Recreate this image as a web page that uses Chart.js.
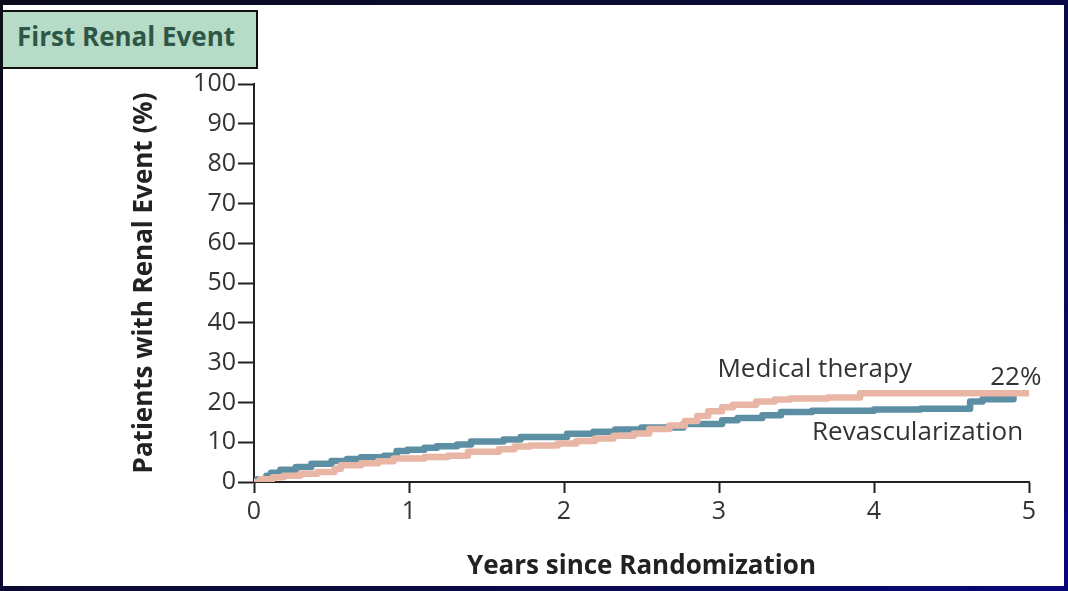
<!DOCTYPE html>
<html>
<head>
<meta charset="utf-8">
<script src="https://cdn.jsdelivr.net/npm/chart.js@4.4.1/dist/chart.umd.min.js"></script>
<style>
  html, body { margin: 0; padding: 0; }
  body {
    width: 1068px; height: 591px; overflow: hidden; position: relative;
    background: linear-gradient(135deg, #0b0b1c 0%, #0a0a3c 55%, #07077c 100%);
  }
  #panel { position: absolute; left: 3px; top: 5px; right: 4px; bottom: 5px; background: #fff; }
  #chart { position: absolute; left: 0; top: 0; }
  .tag {
    position: absolute; left: 1px; top: 10px; width: 257px; height: 59px;
    box-sizing: border-box; border: 2px solid #111; background: #b6dcc8;
    font: bold 26px "Open Sans", sans-serif; color: #2e5747;
    line-height: 48px; padding-left: 14px; white-space: nowrap;
  }
</style>
</head>
<body>
<div id="panel"></div>
<canvas id="chart" width="1068" height="591"></canvas>
<div class="tag">First Renal Event</div>
<script>
// ------------------------------------------------------------
// Cumulative incidence, first renal event (step curves)
// ------------------------------------------------------------

const medYears = [0, 0.04, 0.12, 0.19, 0.30, 0.41, 0.52, 0.56, 0.69, 0.80, 0.90, 1.10, 1.25, 1.38, 1.58, 1.68, 1.78, 1.96,
  2.08, 2.20, 2.32, 2.45, 2.55, 2.68, 2.78, 2.86, 2.93, 3.02, 3.09, 3.24, 3.36, 3.46, 3.70, 3.91, 5.00];
const medPct = [0, 0.7, 1.2, 1.6, 2.1, 2.5, 3.3, 4.2, 4.7, 5.2, 5.9, 6.3, 6.6, 7.6, 8.2, 8.9, 9.2, 9.7,
  10.3, 10.9, 11.6, 12.2, 13.3, 14.2, 15.3, 16.6, 17.8, 18.8, 19.4, 20.2, 20.7, 21.0, 21.2, 22.3, 22.3];

const revYears = [0, 0.02, 0.08, 0.11, 0.17, 0.27, 0.37, 0.50, 0.60, 0.69, 0.84, 0.92, 0.99, 1.10, 1.18, 1.31, 1.40,
  1.61, 1.72, 2.02, 2.19, 2.33, 2.50, 2.77, 3.02, 3.12, 3.28, 3.40, 3.60, 4.00, 4.30, 4.62, 4.70, 4.90];
const revPct = [0, 0.7, 1.6, 2.3, 3.1, 3.8, 4.6, 5.3, 5.8, 6.2, 6.6, 7.8, 8.1, 8.6, 9.0, 9.4, 10.2,
  10.7, 11.3, 12.1, 12.6, 13.2, 13.7, 14.6, 15.5, 16.1, 16.8, 17.6, 17.9, 18.2, 18.4, 20.2, 20.8, 21.2];

const yearTicks = [0, 1, 2, 3, 4, 5];
const pctTicks = [0, 10, 20, 30, 40, 50, 60, 70, 80, 90, 100];

// curve labels, anchored in data units (left edge, baseline)
const curveLabels = [
  { text: 'Medical therapy', year: 2.99, pct: 26.4 },
  { text: '22%', year: 4.75, pct: 24.4 },
  { text: 'Revascularization', year: 3.60, pct: 10.6 },
];

const COLORS = { med: '#e9b6a5', rev: '#5d8fa4', ink: '#222', text: '#333' };
const FONT = '"Open Sans", sans-serif';

const toPoints = (xs, ys) => xs.map((x, i) => ({ x, y: ys[i] }));

const labelPlugin = {
  id: 'curveLabels',
  afterDatasetsDraw(chart) {
    const { ctx, scales: { x, y } } = chart;
    ctx.save();
    ctx.font = '26px ' + FONT;
    ctx.fillStyle = COLORS.text;
    ctx.textAlign = 'left';
    ctx.textBaseline = 'alphabetic';
    curveLabels.forEach(l => ctx.fillText(l.text, x.getPixelForValue(l.year), y.getPixelForValue(l.pct)));
    ctx.restore();
  }
};

Chart.defaults.font.family = FONT;
Chart.defaults.color = COLORS.text;

const lineStyle = { borderWidth: 6.5, pointRadius: 0, stepped: true, fill: false, borderCapStyle: 'round', borderJoinStyle: 'round' };

new Chart(document.getElementById('chart'), {
  type: 'line',
  data: {
    datasets: [
      { label: 'Medical therapy', data: toPoints(medYears, medPct), borderColor: COLORS.med, ...lineStyle },
      { label: 'Revascularization', data: toPoints(revYears, revPct), borderColor: COLORS.rev, ...lineStyle },
    ]
  },
  options: {
    responsive: false,
    animation: false,
    layout: { padding: { left: 0, top: 84, right: 39, bottom: 0 } },
    plugins: { legend: { display: false }, tooltip: { enabled: false } },
    scales: {
      x: {
        type: 'linear', min: 0, max: 5,
        afterBuildTicks: s => { s.ticks = yearTicks.map(v => ({ value: v })); },
        afterFit: s => { s.height = 109; },
        ticks: { font: { size: 25 }, color: COLORS.text, padding: 4 },
        grid: { drawOnChartArea: false, drawTicks: true, tickLength: 11, tickWidth: 2, tickColor: COLORS.ink },
        border: { display: true, color: COLORS.ink, width: 2 },
        title: { display: true, text: 'Years since Randomization', color: COLORS.ink,
          font: { size: 26, weight: 'bold' }, padding: { top: 0, bottom: 9 } }
      },
      y: {
        min: 0, max: 100,
        afterBuildTicks: s => { s.ticks = pctTicks.map(v => ({ value: v })); },
        afterFit: s => { s.width = 254; },
        ticks: { font: { size: 25 }, color: COLORS.text, padding: 2 },
        grid: { drawOnChartArea: false, drawTicks: true, tickLength: 16, tickWidth: 2, tickColor: COLORS.ink },
        border: { display: true, color: COLORS.ink, width: 2 },
        title: { display: true, text: 'Patients with Renal Event (%)', color: COLORS.ink,
          font: { size: 26, weight: 'bold' }, padding: { top: 129, bottom: 0 } }
      }
    }
  },
  plugins: [labelPlugin]
});
</script>
</body>
</html>
